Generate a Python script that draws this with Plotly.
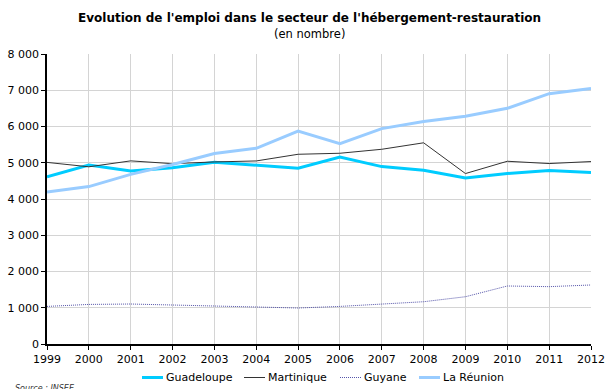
import plotly.graph_objects as go

# Emploi dans l'hébergement-restauration, DOM, 1999-2012
annees = list(range(1999, 2013))
guadeloupe = [4615, 4935, 4770, 4860, 5015, 4940, 4848, 5160, 4894, 4793, 4581, 4702, 4785, 4730]
martinique = [5010, 4888, 5052, 4975, 5022, 5050, 5234, 5262, 5372, 5550, 4702, 5041, 4978, 5033]
guyane = [1037, 1092, 1103, 1076, 1057, 1020, 993, 1037, 1092, 1166, 1304, 1600, 1582, 1628]
reunion = [4196, 4343, 4680, 4950, 5253, 5399, 5876, 5528, 5941, 6139, 6281, 6501, 6906, 7052]

police = "DejaVu Sans"

series = [
    ("Guadeloupe", guadeloupe, dict(color="#00CCFF", width=3)),
    ("Martinique", martinique, dict(color="#333333", width=1)),
    ("Guyane", guyane, dict(color="#5555AA", width=1, dash="1px,1px")),
    ("La Réunion", reunion, dict(color="#99CCFF", width=3)),
]

fig = go.Figure()
for nom, valeurs, trait in series:
    fig.add_trace(go.Scatter(x=annees, y=valeurs, name=nom, mode="lines", line=trait))

# Légende sous le graphique : segment court puis libellé, en coordonnées papier
largeur_trace, hauteur_trace = 544, 290
debuts_legende = [142, 244, 340, 419]
y_leg = -(377.5 - 344) / hauteur_trace
formes, notes = [], []
for (nom, _, trait), px in zip(series, debuts_legende):
    x0 = (px - 47) / largeur_trace
    x1 = (px + 21 - 47) / largeur_trace
    formes.append(dict(type="line", xref="paper", yref="paper", x0=x0, x1=x1,
                       y0=y_leg, y1=y_leg, line=trait))
    notes.append(dict(text=nom, xref="paper", yref="paper", x=x1, y=y_leg,
                      xanchor="left", yanchor="middle", xshift=1, showarrow=False,
                      font=dict(size=11, family=police)))

fig.update_layout(
    width=605, height=389,
    margin=dict(l=47, r=14, t=54, b=45, autoexpand=False),
    paper_bgcolor="white", plot_bgcolor="white",
    separators=", ",
    font=dict(family=police, size=11, color="#000000"),
    showlegend=False,
    shapes=formes,
    annotations=[
        dict(text="<b>Evolution de l'emploi dans le secteur de l'hébergement-restauration</b>",
             xref="paper", yref="paper", x=(309 - 47) / largeur_trace, y=1,
             xanchor="center", yanchor="bottom", yshift=27, showarrow=False,
             font=dict(size=12, family=police)),
        dict(text="(en nombre)", xref="paper", yref="paper", x=(309 - 47) / largeur_trace, y=1,
             xanchor="center", yanchor="bottom", yshift=11, showarrow=False,
             font=dict(size=11.5, family=police)),
        dict(text="<i>Source : INSEE</i>", xref="paper", yref="paper", x=0, y=0,
             xanchor="left", yanchor="top", xshift=-34, yshift=-38, showarrow=False,
             font=dict(size=8, family=police, color="#333333")),
    ] + notes,
)

fig.update_xaxes(range=[1999, 2012], dtick=1, tick0=1999, showgrid=True,
                 gridcolor="#D4D4D4", gridwidth=1, showline=True, linecolor="#000000",
                 linewidth=1.5, ticks="outside", ticklen=4, tickcolor="#000000",
                 tickfont=dict(size=11), zeroline=False, automargin=False)
fig.update_yaxes(range=[0, 8000], dtick=1000, tickformat=",.0f", showgrid=True,
                 gridcolor="#D4D4D4", gridwidth=1, showline=True, linecolor="#000000",
                 linewidth=1.5, ticks="outside", ticklen=4, tickcolor="#000000",
                 tickfont=dict(size=11), zeroline=False, automargin=False)

fig.write_html("out.html")
